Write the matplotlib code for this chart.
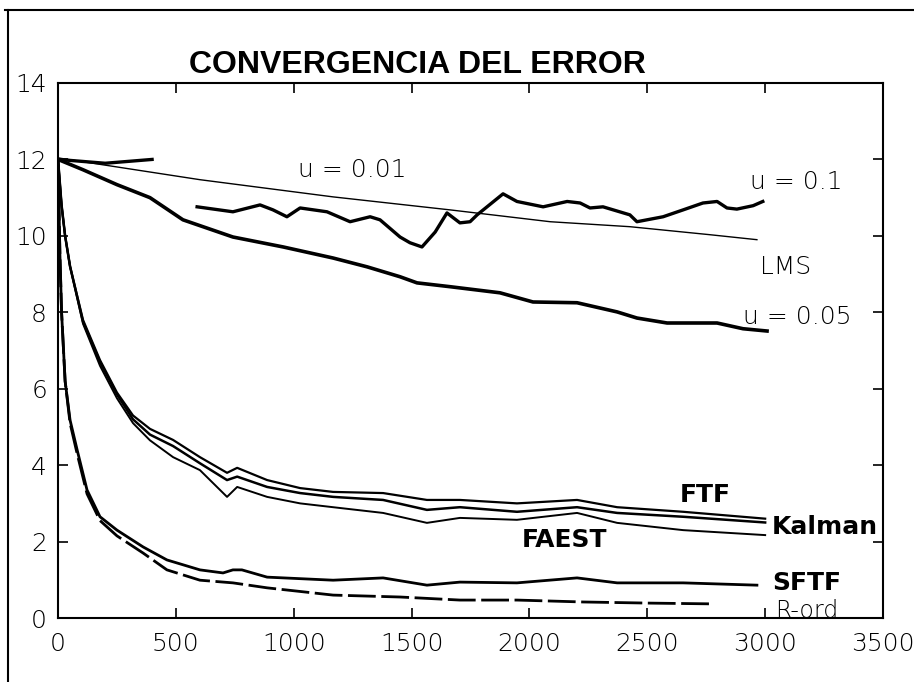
import numpy as np
import matplotlib
matplotlib.use("Agg")
import matplotlib.pyplot as plt
from matplotlib.lines import Line2D

plt.rcParams['font.family'] = ['DejaVu Sans']

# ---- data ----
lms001_x = [0, 602, 1167, 1663, 2088, 2426, 2766, 2965]
lms001_y = [12.04, 11.47, 11.02, 10.68, 10.37, 10.24, 10.03, 9.9]

mu01_x = [0, 100, 200, 300, 399, 400, 590, 742, 857, 912, 971, 1027, 1141, 1239, 1324, 1366,
          1451, 1493, 1544, 1600, 1650, 1705, 1748, 1778, 1820, 1888, 1947, 2058, 2160, 2215,
          2257, 2312, 2426, 2456, 2567, 2652, 2736, 2796, 2838, 2880, 2949, 2990]
mu01_y = [12.0, 11.95, 11.9, 11.95, 12.0, np.nan, 10.76, 10.63, 10.81, 10.68, 10.5, 10.73, 10.63,
          10.37, 10.5, 10.42, 9.97, 9.82, 9.71, 10.1, 10.6, 10.34, 10.37, 10.55, 10.76, 11.1,
          10.9, 10.76, 10.9, 10.86, 10.73, 10.76, 10.55, 10.37, 10.5, 10.68, 10.86, 10.9,
          10.73, 10.7, 10.79, 10.9]

mu005_x = [0, 106, 250, 390, 530, 742, 955, 1167, 1311, 1451, 1523, 1663, 1875, 2015, 2202,
           2372, 2456, 2584, 2796, 2906, 3008]
mu005_y = [12.0, 11.73, 11.34, 11.0, 10.42, 9.97, 9.71, 9.42, 9.19, 8.93, 8.77, 8.67, 8.51,
           8.27, 8.25, 8.01, 7.85, 7.72, 7.72, 7.57, 7.51]

fast_x = [0, 15, 30, 51, 106, 178, 250, 318, 390, 488, 602, 717, 760, 887, 1027, 1167, 1379,
          1565, 1705, 1947, 2202, 2372, 2652, 3000]
ftf_y = [12, 10.8, 10.0, 9.2, 7.8, 6.75, 5.9, 5.3, 4.95, 4.66, 4.21, 3.8, 3.93, 3.61, 3.4, 3.3,
         3.27, 3.09, 3.09, 3.0, 3.09, 2.9, 2.78, 2.6]
kalman_y = [12, 10.8, 10.0, 9.2, 7.75, 6.7, 5.85, 5.2, 4.8, 4.5, 4.05, 3.61, 3.7, 3.43, 3.27,
            3.17, 3.09, 2.83, 2.9, 2.78, 2.9, 2.75, 2.65, 2.5]
faest_y = [12, 10.8, 10.0, 9.2, 7.7, 6.6, 5.75, 5.1, 4.65, 4.21, 3.87, 3.17, 3.43, 3.17, 3.0,
           2.9, 2.75, 2.49, 2.62, 2.57, 2.75, 2.49, 2.3, 2.17]

sftf_x = [0, 8, 15, 30, 51, 81, 123, 178, 250, 361, 462, 602, 700, 742, 780, 887, 1167, 1379,
          1565, 1705, 1947, 2202, 2372, 2652, 2965]
sftf_y = [12, 9.5, 8.0, 6.2, 5.18, 4.4, 3.35, 2.65, 2.3, 1.86, 1.52, 1.26, 1.18, 1.26, 1.26,
          1.07, 0.99, 1.05, 0.86, 0.94, 0.92, 1.05, 0.92, 0.92, 0.86]

rord_x = [0, 8, 15, 30, 51, 81, 123, 178, 250, 361, 462, 602, 742, 887, 1167, 1451, 1705, 1947,
          2228, 2512, 2780]
rord_y = [12, 9.5, 8.0, 6.2, 5.1, 4.3, 3.25, 2.55, 2.15, 1.7, 1.26, 0.99, 0.92, 0.79, 0.6,
          0.55, 0.47, 0.47, 0.42, 0.39, 0.37]

x_ticks = [0, 500, 1000, 1500, 2000, 2500, 3000, 3500]
y_ticks = [0, 2, 4, 6, 8, 10, 12, 14]

title = "CONVERGENCIA DEL ERROR"

# ---- figure ----
fig = plt.figure(figsize=(9.14, 6.82), dpi=100)
ax = fig.add_axes([0.0635, 0.0938, 0.9026, 0.7845])

ax.plot(lms001_x, lms001_y, color='black', lw=1.0)
ax.plot(mu01_x, mu01_y, color='black', lw=2.4)
ax.plot(mu005_x, mu005_y, color='black', lw=2.6)
ax.plot(fast_x, ftf_y, color='black', lw=1.6)
ax.plot(fast_x, kalman_y, color='black', lw=1.8)
ax.plot(fast_x, faest_y, color='black', lw=1.4)
ax.plot(sftf_x, sftf_y, color='black', lw=2.0)
ax.plot(rord_x, rord_y, color='black', lw=2.0, dashes=(10, 2))

ax.set_xlim(0, 3500)
ax.set_ylim(0, 14)
ax.set_xticks(x_ticks)
ax.set_yticks(y_ticks)
ax.tick_params(direction='in', length=7, width=1.2, top=True, right=True,
               labelsize=18, colors='black')
ax.tick_params(axis='x', pad=10)
ax.tick_params(axis='y', pad=8)
for lab in ax.get_xticklabels() + ax.get_yticklabels():
    lab.set_fontweight('light')
for s in ax.spines.values():
    s.set_linewidth(1.5)

reg = dict(fontsize=18, fontweight='light', va='center')
bold = dict(fontsize=18, fontweight='bold', va='center')
ax.text(1250, 11.72, "u = 0.01", ha='center', **reg)
ax.text(2936, 11.41, "u = 0.1", ha='left', **reg)
ax.text(2978, 9.19, "LMS", ha='left', **reg)
ax.text(2906, 7.88, "u = 0.05", ha='left', **reg)
ax.text(2639, 3.22, "FTF", ha='left', **bold)
ax.text(3030, 2.38, "Kalman", ha='left', **bold)
ax.text(1968, 2.04, "FAEST", ha='left', **bold)
ax.text(3030, 0.92, "SFTF", ha='left', **bold)
ax.text(3042, 0.18, "R-ord", ha='left', fontsize=17, fontweight='light', va='center')

fig.text(417 / 914, 1 - 65 / 682, title, fontsize=23, fontweight='bold',
         family=['Liberation Sans Narrow', 'Liberation Sans', 'DejaVu Sans'],
         ha='center', va='center')

# outer frame lines of the scanned figure
fig.add_artist(Line2D([5 / 914, 1.0], [1 - 10 / 682, 1 - 10 / 682], color='black', lw=1.5,
                      transform=fig.transFigure))
fig.add_artist(Line2D([8 / 914, 8 / 914], [0, 1 - 10 / 682], color='black', lw=1.5,
                      transform=fig.transFigure))

fig.savefig("out.png", dpi=100)
